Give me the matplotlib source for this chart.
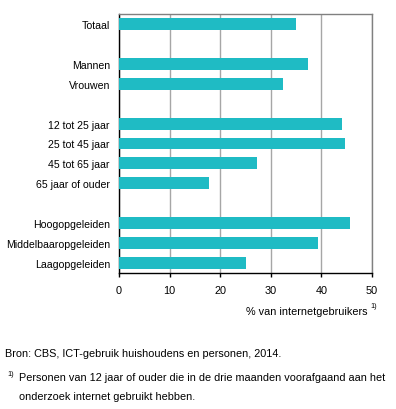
import matplotlib
matplotlib.use("Agg")
import matplotlib.pyplot as plt

categories = ["Totaal", "", "Mannen", "Vrouwen", "", "12 tot 25 jaar", "25 tot 45 jaar",
              "45 tot 65 jaar", "65 jaar of ouder", "", "Hoogopgeleiden",
              "Middelbaaropgeleiden", "Laagopgeleiden"]
values = [35.0, None, 37.3, 32.5, None, 44.0, 44.6, 27.2, 17.7, None, 45.6, 39.4, 25.0]
xticks = [0, 10, 20, 30, 40, 50]

plt.rcParams['font.family'] = ['Liberation Sans', 'DejaVu Sans']
W, H = 396, 410
fig = plt.figure(figsize=(W / 100, H / 100), dpi=100)
ax = fig.add_axes([119 / W, 1 - 274 / H, (372 - 119) / W, (274 - 15) / H])

color = "#1FBBC4"
ys = list(range(len(categories)))
for y, v in zip(ys, values):
    if v is not None:
        ax.barh(y, v, height=0.6, color=color, zorder=3)

ax.set_ylim(len(categories) - 0.5, -0.5)
ax.set_xlim(0, 50)
ax.set_yticks(ys)
ax.set_yticklabels(categories, fontsize=7.6)
ax.set_xticks(xticks)
ax.set_xticklabels([str(t) for t in xticks], fontsize=7.8)
ax.tick_params(axis='y', length=0, pad=6.5)
ax.tick_params(axis='x', length=3, width=1, direction='out', pad=6, color='black')
ax.xaxis.grid(True, color="#A6A6A6", linewidth=1, zorder=0)
ax.set_axisbelow(True)
for s in ['top', 'right']:
    ax.spines[s].set_color("#808080")
    ax.spines[s].set_linewidth(1)
for s in ['left', 'bottom']:
    ax.spines[s].set_color("black")
    ax.spines[s].set_linewidth(1)

def ft(x, y, s, **kw):
    fig.text(x / W, 1 - y / H, s, **kw)

ft(368, 312, "% van internetgebruikers", fontsize=7.8, ha='right', va='center')
ft(370, 307, "1)", fontsize=5.2, ha='left', va='center')
ft(5, 354, "Bron: CBS, ICT-gebruik huishoudens en personen, 2014.", fontsize=7.8, ha='left', va='center')
ft(7, 375, "1)", fontsize=5.2, ha='left', va='center')
ft(19, 378, "Personen van 12 jaar of ouder die in de drie maanden voorafgaand aan het",
   fontsize=7.8, ha='left', va='center')
ft(19, 397, "onderzoek internet gebruikt hebben.", fontsize=7.8, ha='left', va='center')

fig.savefig("out.png", dpi=100)
